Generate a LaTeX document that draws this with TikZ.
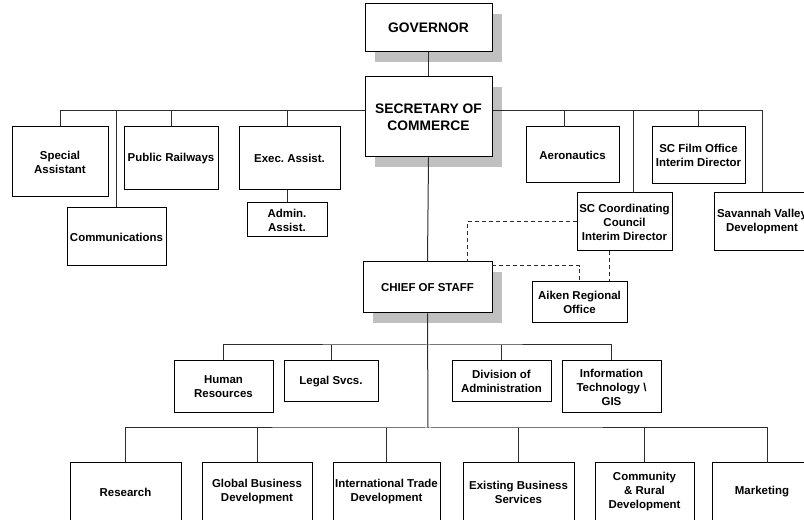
\documentclass[tikz,border=0pt]{standalone}
\usepackage{fontspec}
\setmainfont{Liberation Sans}
\usetikzlibrary{shadows}
\frenchspacing

\definecolor{shadowgray}{RGB}{192,192,192}
\definecolor{linegray}{RGB}{45,45,45}

\tikzset{
  box/.style={draw=black, line width=0.75pt, fill=white, inner sep=0pt,
    align=center, font=\bfseries\fontsize{8.6}{10.5}\selectfont},
  bigbox/.style={box, font=\bfseries\fontsize{10.35}{12.5}\selectfont},
  shadowed/.style={general shadow={fill=shadowgray, draw=none,
    shadow xshift=7.5pt, shadow yshift=-7.5pt}},
  link/.style={draw=linegray, line width=0.75pt},
  dashlink/.style={link, dash pattern=on 3pt off 2.25pt},
}

% \orgbox[options]{name}{left}{top}{right}{bottom}{text}  (pixel grid, y downwards)
\newcommand\orgbox[7][]{%
  \node[box,#1,minimum width={(#5-#3)*0.75pt},minimum height={(#6-#4)*0.75pt}]
    (#2) at ({(#3+#5)/2},{(#4+#6)/2}) {#7};}

\begin{document}
\begin{tikzpicture}[x=0.75pt,y=-0.75pt]
\useasboundingbox (0,0) rectangle (804,520);

% ---- top of the chart
\orgbox[bigbox,shadowed]{gov}{365}{4}{492}{52}{GOVERNOR}
\orgbox[bigbox,shadowed]{sec}{365}{77}{492}{157}{SECRETARY OF\\COMMERCE}

% ---- offices reporting to the Secretary
\orgbox{spa}{12}{127}{108}{197}{Special\\Assistant}
\orgbox{comm}{67}{208}{166}{266}{Communications}
\orgbox{rail}{124}{127}{218}{190}{Public Railways}
\orgbox{exec}{239}{127}{340}{190}{Exec. Assist.}
\orgbox{admin}{247}{203}{327}{237}{Admin.\\Assist.}
\orgbox{aero}{526}{127}{619}{183}{Aeronautics}
\orgbox{film}{652}{127}{745}{184}{SC Film Office\\Interim Director}
\orgbox{coord}{577}{193}{672}{251}{SC Coordinating\\Council\\Interim Director}
\orgbox{sav}{714}{193}{810}{251}{Savannah Valley\\Development}

% ---- chief of staff and regional office
\orgbox[shadowed]{cos}{363}{262}{492}{313}{CHIEF OF STAFF}
\orgbox{aiken}{532}{282}{627}{323}{Aiken Regional\\Office}

% ---- support divisions
\orgbox{hr}{174}{361}{273}{413}{Human\\Resources}
\orgbox{legal}{284}{361}{378}{402}{Legal Svcs.}
\orgbox{div}{452}{361}{551}{402}{Division of\\Administration}
\orgbox{it}{562}{361}{661}{413}{Information\\Technology \textbackslash\\GIS}

% ---- program divisions
\orgbox{res}{70}{463}{181}{521}{Research}
\orgbox{glob}{202}{463}{312}{521}{Global Business\\Development}
\orgbox{intl}{333}{463}{440}{521}{International Trade\\Development}
\orgbox{exist}{463}{463}{574}{521}{Existing Business\\Services}
\orgbox{comr}{595}{463}{694}{521}{Community\\\& Rural\\Development}
\orgbox{mkt}{712}{463}{812}{521}{Marketing}

% ---- bus lines and attachment points
\coordinate (busT) at (428,111);
\coordinate (busM) at (428,345);
\coordinate (busB) at (428,428);
\coordinate (aeroTop) at (564,127);
\coordinate (coordTop) at (633,193);
\coordinate (mktTop) at (767,463);
\coordinate (cosDash) at (467,262);
\coordinate (cosEast) at (492,266);
\coordinate (coordBot) at (609,251);

% ---- solid reporting lines
\draw[link] (gov.south) -- (sec.north);
\draw[link] (sec.west |- busT) -| (spa.north);
\draw[link] (comm.north) -- (comm.north |- busT);
\draw[link] (rail.north) -- (rail.north |- busT);
\draw[link] (admin.north |- exec.north) -- (admin.north |- busT);
\draw[link] (admin.north) -- (admin.north |- exec.south);
\draw[link] (sec.east |- busT) -| (sav.north);
\draw[link] (aeroTop) -- (aeroTop |- busT);
\draw[link] (coordTop) -- (coordTop |- busT);
\draw[link] (film.north) -- (film.north |- busT);

\draw[link] (sec.south) -- (cos.north);
\draw[link] (cos.south) -- (busB);
\draw[link] (hr.north) |- (busM) -| (it.north);
\draw[link] (legal.north) -- (legal.north |- busM);
\draw[link] (div.north) -- (div.north |- busM);

\draw[link] (res.north) |- (busB) -| (mktTop);
\draw[link] (glob.north) -- (glob.north |- busB);
\draw[link] (intl.north) -- (intl.north |- busB);
\draw[link] (exist.north) -- (exist.north |- busB);
\draw[link] (comr.north) -- (comr.north |- busB);

% ---- dashed coordination lines
\draw[dashlink] (coord.west) -| (cosDash);
\draw[dashlink] (cosEast) -| (aiken.north);
\draw[dashlink] (coordBot) -- (coordBot |- aiken.north);
\end{tikzpicture}
\end{document}
